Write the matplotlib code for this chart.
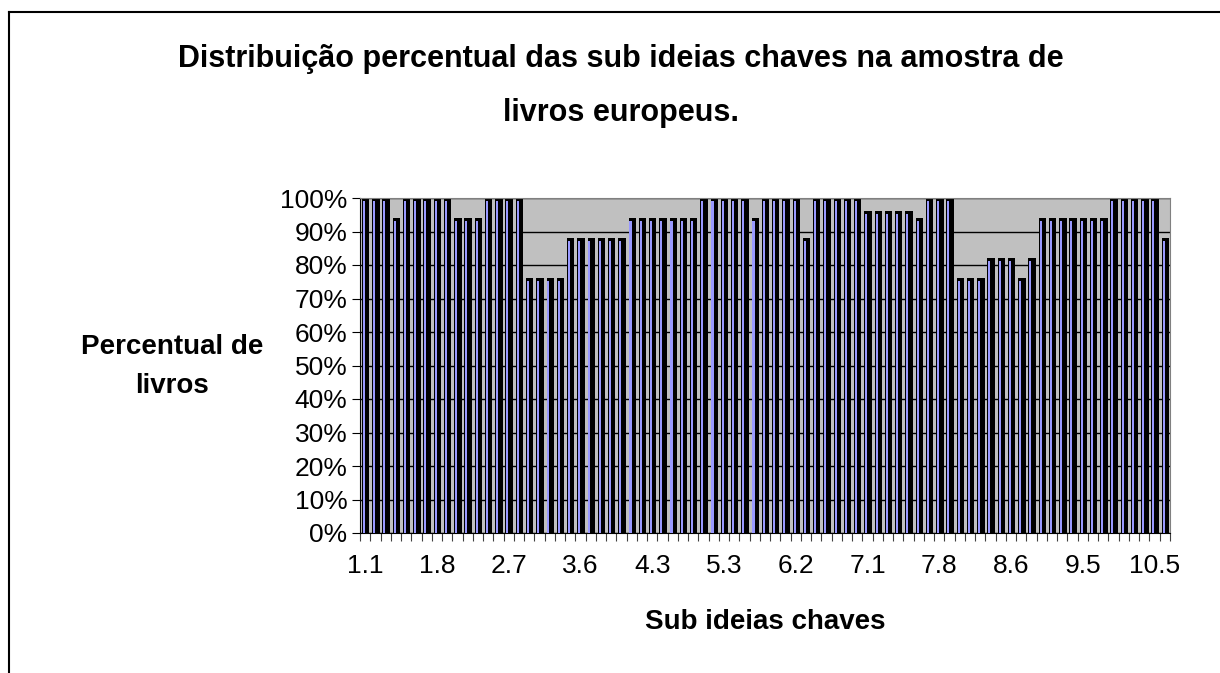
import numpy as np
import matplotlib
matplotlib.use('Agg')
import matplotlib.pyplot as plt
from matplotlib.ticker import PercentFormatter

plt.rcParams['font.family'] = ['Liberation Sans', 'DejaVu Sans']

########## data ##########
title = 'Distribuição percentual das sub ideias chaves na amostra de\nlivros europeus.'
xlabel = 'Sub ideias chaves'
ylabel = 'Percentual de\nlivros'

# percent of books per sub key idea (79 categories)
values = [100, 100, 100, 94, 100, 100, 100, 100, 100, 94,
          94, 94, 100, 100, 100, 100, 76, 76, 76, 76,
          88, 88, 88, 88, 88, 88, 94, 94, 94, 94,
          94, 94, 94, 100, 100, 100, 100, 100, 94, 100,
          100, 100, 100, 88, 100, 100, 100, 100, 100, 96,
          96, 96, 96, 96, 94, 100, 100, 100, 76, 76,
          76, 82, 82, 82, 76, 82, 94, 94, 94, 94,
          94, 94, 94, 100, 100, 100, 100, 100, 88]

# only every 7th category label is shown
shown_labels = ['1.1', '1.8', '2.7', '3.6', '4.3', '5.3',
                '6.2', '7.1', '7.8', '8.6', '9.5', '10.5']
label_step = 7

########## figure ##########
fig = plt.figure(figsize=(12.2, 6.73), dpi=100)
ax = fig.add_axes([360 / 1220, 1 - 533 / 673, 810 / 1220, 335 / 673])

x = np.arange(len(values))
ax.set_facecolor('#c0c0c0')
ax.set_axisbelow(True)
ax.yaxis.grid(True, color='black', linewidth=1)

# dark body of each bar plus a thin blue front stripe
ax.bar(x + 0.05, values, width=0.72, color='black', zorder=2)
ax.bar(x - 0.12, np.array(values) - 0.8, width=0.2, color='#9999ff', zorder=3)

ax.set_xlim(-0.5, len(values) - 0.5)
ax.set_ylim(0, 100)
ax.set_yticks(np.arange(0, 101, 10))
ax.yaxis.set_major_formatter(PercentFormatter(decimals=0))

# ticks between categories, labels on categories
ax.set_xticks(np.arange(-0.5, len(values), 1))
ax.set_xticklabels([])
ax.set_xticks(x[::label_step][:len(shown_labels)], minor=True)
ax.set_xticklabels(shown_labels, minor=True)
ax.tick_params(axis='x', which='major', direction='out', length=6, color='#404040')
ax.tick_params(axis='x', which='minor', length=0, pad=15, labelsize=19)
ax.tick_params(axis='y', direction='out', length=6, pad=3, labelsize=19)

for s in ['top', 'right']:
    ax.spines[s].set_color('#808080')
for s in ['left', 'bottom']:
    ax.spines[s].set_color('black')

fig.text(621 / 1220, 1 - 86 / 673, title, ha='center', va='center', fontsize=22,
         fontweight='bold', linespacing=2.0)
fig.text(765 / 1220, 1 - 622 / 673, xlabel, ha='center', va='center',
         fontsize=20, fontweight='bold')
fig.text(172 / 1220, 1 - 367 / 673, ylabel, ha='center', va='center',
         fontsize=20, fontweight='bold', linespacing=1.65)

# outer chart border (left and top visible)
fig.add_artist(plt.Line2D([9 / 1220, 9 / 1220], [0, 1 - 12 / 673],
                          transform=fig.transFigure, color='black', linewidth=1.5))
fig.add_artist(plt.Line2D([9 / 1220, 1], [1 - 12 / 673, 1 - 12 / 673],
                          transform=fig.transFigure, color='black', linewidth=1.5))

plt.savefig('out.png', dpi=100)
